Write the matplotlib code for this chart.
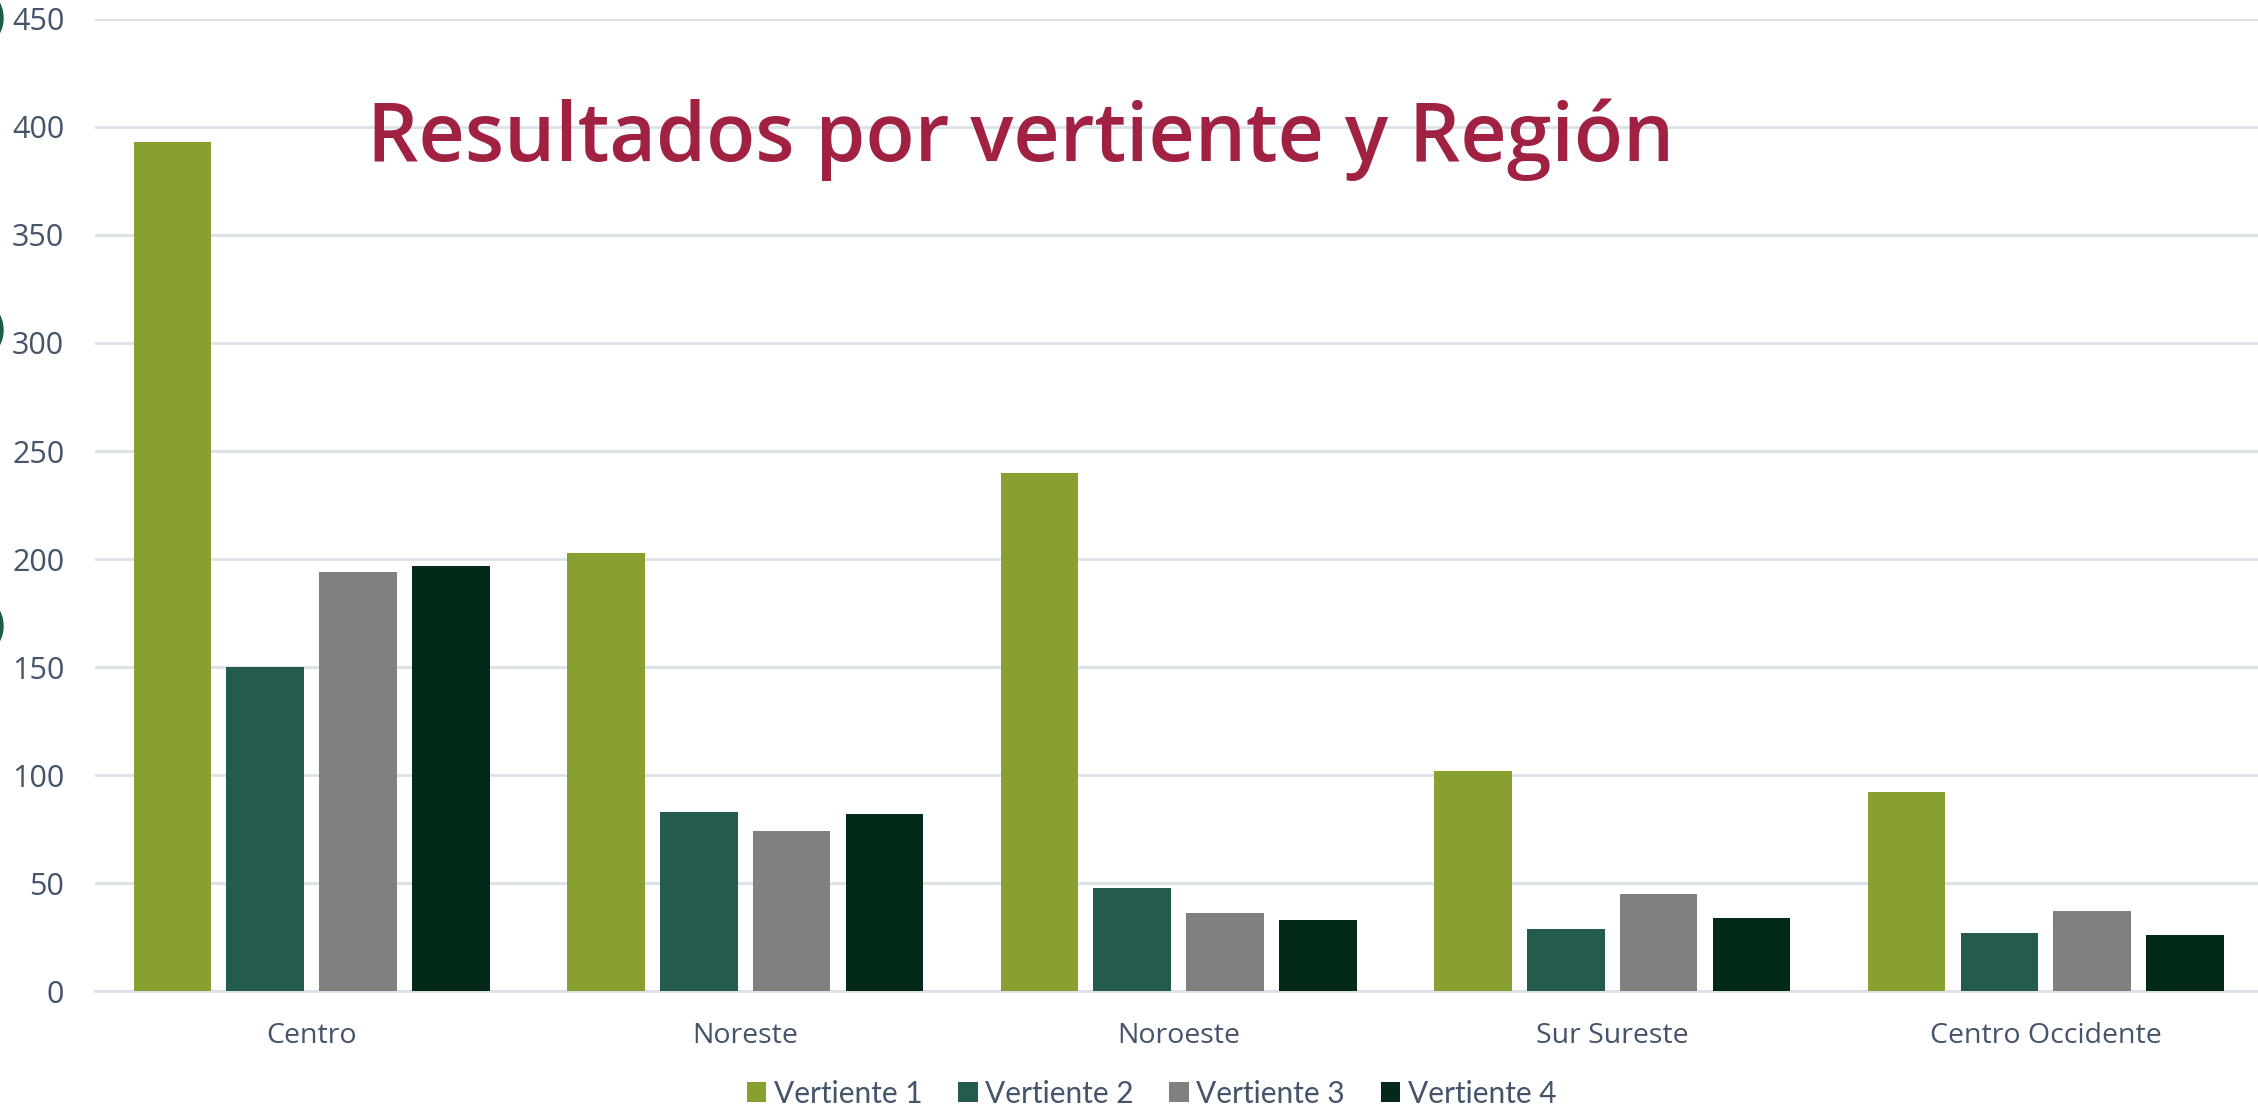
import numpy as np
import matplotlib.pyplot as plt
from matplotlib.patches import Ellipse

# Data
regiones = ['Centro', 'Noreste', 'Noroeste', 'Sur Sureste', 'Centro Occidente']
vertiente_1 = [393, 203, 240, 102, 92]
vertiente_2 = [150, 83, 48, 29, 27]
vertiente_3 = [194, 74, 36, 45, 37]
vertiente_4 = [197, 82, 33, 34, 26]
series = [vertiente_1, vertiente_2, vertiente_3, vertiente_4]
nombres = ['Vertiente 1', 'Vertiente 2', 'Vertiente 3', 'Vertiente 4']
y_ticks = np.arange(0, 451, 50)

colors = ['#88A030', '#235B4E', '#808080', '#032918']
text_color = '#44546A'
grid_color = '#DCE0E8'

fig = plt.figure(figsize=(22.58, 11.10), dpi=100)
ax = fig.add_axes([0.042, 0.107, 0.960, 0.876])

x = np.arange(len(regiones))
width = 0.179
step = 0.214
for i, vals in enumerate(series):
    ax.bar(x + (i - 1.5) * step, vals, width=width, color=colors[i],
           label=nombres[i], zorder=3)

ax.set_xlim(-0.5, len(regiones) - 0.5)
ax.set_ylim(0, 450)
ax.set_yticks(y_ticks)
ax.set_xticks(x)
ax.set_xticklabels(regiones)

ax.grid(axis='y', color=grid_color, linewidth=2, zorder=0)
ax.set_axisbelow(True)
for s in ['top', 'right', 'left']:
    ax.spines[s].set_visible(False)
ax.spines['bottom'].set_color(grid_color)
ax.spines['bottom'].set_linewidth(2)
ax.tick_params(axis='both', length=0, colors=text_color)
ax.tick_params(axis='x', pad=22, labelsize=20.5)
ax.tick_params(axis='y', pad=22, labelsize=22)
for t in ax.get_xticklabels() + ax.get_yticklabels():
    t.set_family('Open Sans')

# Title
fig.text(0.452, 0.855, 'Resultados por vertiente y Región', color='#A02142',
         fontsize=58, fontweight='semibold', family='Open Sans',
         ha='center', va='baseline')

# Legend
leg = fig.legend(*ax.get_legend_handles_labels(), loc='center',
                 bbox_to_anchor=(0.510, 0.0145), ncol=4,
                 frameon=False, fontsize=21.5, handlelength=0.65, handleheight=0.65,
                 handletextpad=0.25, columnspacing=1.2)
for t in leg.get_texts():
    t.set_color(text_color)
    t.set_family('Lato')

# decorative partial circles at the left edge
for cy in [18, 330, 626]:
    fig.patches.append(Ellipse((-20 / 2258, 1 - cy / 1110), 46 / 2258, 56 / 1110,
                               transform=fig.transFigure, color='#1E5C45'))

fig.savefig('out.png', dpi=100)
